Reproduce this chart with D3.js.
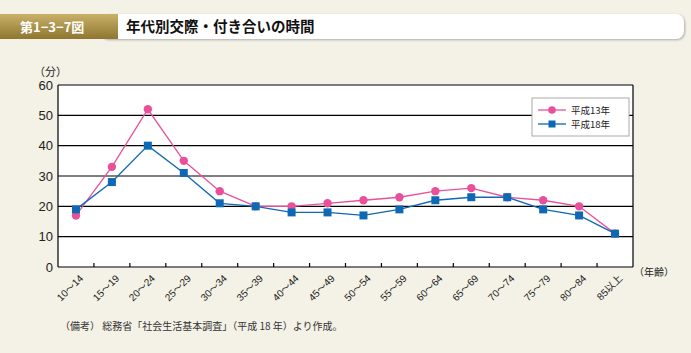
<!DOCTYPE html>
<html>
<head>
<meta charset="utf-8">
<script src="https://cdn.jsdelivr.net/npm/d3@7"></script>
<style>
  body { margin: 0; background: #f4f1e6; }
  svg { display: block; }
</style>
</head>
<body>
<div id="graphicContainer"></div>
<script>

const ages = ["10〜14", "15〜19", "20〜24", "25〜29", "30〜34", "35〜39", "40〜44", "45〜49",
  "50〜54", "55〜59", "60〜64", "65〜69", "70〜74", "75〜79", "80〜84", "85以上"]

const h13 = [17, 33, 52, 35, 25, 20, 20, 21, 22, 23, 25, 26, 23, 22, 20, 11]
const h18 = [19, 28, 40, 31, 21, 20, 18, 18, 17, 19, 22, 23, 23, 19, 17, 11]

const yTicks = [0, 10, 20, 30, 40, 50, 60]

const seriesNames = ["平成13年", "平成18年"]

const width = 691
const height = 353
const font = "'Noto Sans CJK JP', 'Noto Sans', sans-serif"
const pink = "#e8519a"
const blue = "#0f68b4"

const svg = d3.select("#graphicContainer").append("svg")
  .attr("width", width)
  .attr("height", height)
  .style("font-family", font)

// header
const defs = svg.append("defs")
const grad = defs.append("linearGradient").attr("id", "gold").attr("x1", 0).attr("y1", 0).attr("x2", 0).attr("y2", 1)
grad.append("stop").attr("offset", "0%").attr("stop-color", "#c9b168")
grad.append("stop").attr("offset", "100%").attr("stop-color", "#8f7630")

const shadow = defs.append("filter").attr("id", "shadow")
shadow.append("feDropShadow").attr("dx", 1).attr("dy", 1).attr("stdDeviation", 0.8).attr("flood-color", "#999").attr("flood-opacity", 0.8)

svg.append("rect")
  .attr("x", 100).attr("y", 14).attr("width", 584).attr("height", 25)
  .attr("rx", 8).attr("fill", "#fff").attr("filter", "url(#shadow)")

svg.append("rect")
  .attr("x", 0).attr("y", 14).attr("width", 118).attr("height", 25)
  .attr("fill", "url(#gold)")

svg.append("text")
  .attr("x", 20).attr("y", 31.5)
  .attr("fill", "#fff").attr("font-size", 13).attr("font-weight", "bold")
  .text("第1−3−7図")

svg.append("text")
  .attr("x", 126).attr("y", 32)
  .attr("fill", "#111").attr("font-size", 14.5).attr("font-weight", "bold")
  .text("年代別交際・付き合いの時間")

// chart
const margin = { left: 58, right: 58, top: 85, bottom: 86 }

const x = d3.scaleBand()
  .domain(ages)
  .range([margin.left, width - margin.right])

const y = d3.scaleLinear()
  .domain([0, 60])
  .range([height - margin.bottom, margin.top])

svg.append("rect")
  .attr("x", x.range()[0]).attr("y", y(60))
  .attr("width", x.range()[1] - x.range()[0]).attr("height", y(0) - y(60))
  .attr("fill", "#fff")

svg.append("g")
  .selectAll("line")
  .data(yTicks)
  .enter()
  .append("line")
  .attr("x1", x.range()[0]).attr("x2", x.range()[1])
  .attr("y1", d => y(d)).attr("y2", d => y(d))
  .attr("stroke", "#000").attr("stroke-width", 1.2)

// side borders
svg.append("line")
  .attr("x1", x.range()[0]).attr("x2", x.range()[0])
  .attr("y1", y(0)).attr("y2", y(60))
  .attr("stroke", "#000").attr("stroke-width", 1.2)
svg.append("line")
  .attr("x1", x.range()[1]).attr("x2", x.range()[1])
  .attr("y1", y(0)).attr("y2", y(60))
  .attr("stroke", "#000").attr("stroke-width", 1.2)

// y axis labels
const yAxis = g => g
  .attr("transform", `translate(${margin.left},0)`)
  .call(d3.axisLeft(y).tickValues(yTicks).tickSize(0).tickPadding(5))
  .call(g => g.select(".domain").remove())
  .call(g => g.selectAll("text").attr("font-size", 13).attr("fill", "#222").style("font-family", "'Liberation Sans', Arial, sans-serif"))

svg.append("g").call(yAxis)

svg.append("text")
  .attr("x", 34).attr("y", 76)
  .attr("font-size", 11).attr("fill", "#222")
  .text("（分）")

// x ticks at band boundaries
svg.append("g")
  .selectAll("line")
  .data(ages.slice(1))
  .enter()
  .append("line")
  .attr("x1", d => x(d)).attr("x2", d => x(d))
  .attr("y1", y(0)).attr("y2", y(0) - 4)
  .attr("stroke", "#000").attr("stroke-width", 1.2)

svg.append("g")
  .selectAll("text")
  .data(ages)
  .enter()
  .append("text")
  .attr("transform", d => `translate(${x(d) + x.bandwidth() / 2 + 3},${y(0) + 7}) rotate(-45)`)
  .attr("text-anchor", "end")
  .attr("dy", "0.7em")
  .attr("font-size", 10)
  .attr("fill", "#222")
  .style("font-family", "'Liberation Sans', 'Noto Sans CJK JP', sans-serif")
  .text(d => d)

svg.append("text")
  .attr("x", 634).attr("y", 276)
  .attr("font-size", 10).attr("fill", "#222")
  .text("（年齢）")

// lines
const line = d3.line()
  .x((d, i) => x(ages[i]) + x.bandwidth() / 2)
  .y(d => y(d))

svg.append("path")
  .datum(h13)
  .attr("d", line)
  .attr("fill", "none").attr("stroke", pink).attr("stroke-width", 1.3)

svg.append("path")
  .datum(h18)
  .attr("d", line)
  .attr("fill", "none").attr("stroke", blue).attr("stroke-width", 1.3)

svg.append("g")
  .selectAll("circle")
  .data(h13)
  .enter()
  .append("circle")
  .attr("cx", (d, i) => x(ages[i]) + x.bandwidth() / 2)
  .attr("cy", d => y(d))
  .attr("r", 4.2)
  .attr("fill", pink)

svg.append("g")
  .selectAll("rect")
  .data(h18)
  .enter()
  .append("rect")
  .attr("x", (d, i) => x(ages[i]) + x.bandwidth() / 2 - 4)
  .attr("y", d => y(d) - 4)
  .attr("width", 8).attr("height", 8)
  .attr("fill", blue)

// legend
const legend = svg.append("g").attr("transform", "translate(532,98)")

legend.append("rect")
  .attr("width", 97).attr("height", 38)
  .attr("fill", "#fff").attr("stroke", "#aaa").attr("stroke-width", 1)

seriesNames.forEach((name, i) => {
  const row = legend.append("g").attr("transform", `translate(0,${12 + i * 14})`)
  const c = i == 0 ? pink : blue
  row.append("line")
    .attr("x1", 6).attr("x2", 34).attr("y1", 0).attr("y2", 0)
    .attr("stroke", c).attr("stroke-width", 1.3)
  if (i == 0) {
    row.append("circle").attr("cx", 20).attr("cy", 0).attr("r", 3.8).attr("fill", c)
  } else {
    row.append("rect").attr("x", 16.5).attr("y", -3.5).attr("width", 7).attr("height", 7).attr("fill", c)
  }
  row.append("text")
    .attr("x", 39).attr("y", 3.5)
    .attr("font-size", 9.5).attr("fill", "#222")
    .text(name)
})

// footnote
svg.append("text")
  .attr("x", 60).attr("y", 330)
  .attr("font-size", 10).attr("fill", "#333")
  .text("（備考） 総務省「社会生活基本調査」（平成 18 年）より作成。")

</script>
</body>
</html>
